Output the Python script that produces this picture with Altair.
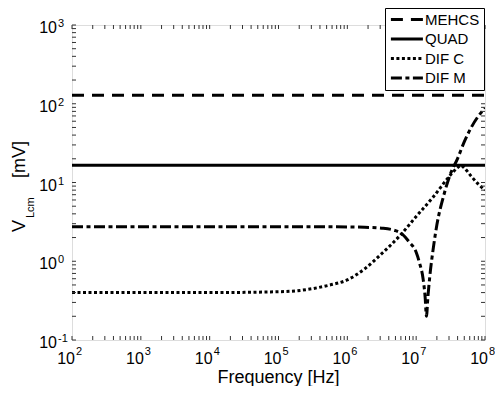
import altair as alt
import pandas as pd

# ---------------- data ----------------
series_order = ["MEHCS", "QUAD", "DIF C", "DIF M"]

mehcs_freq = [1e2, 1e8]
mehcs_val = [128, 128]

quad_freq = [1e2, 1e8]
quad_val = [16.5, 16.5]

difc_freq = [1e2, 1e3, 1e4, 1e5, 1.78e5, 3.16e5, 5.62e5, 1e6, 1.78e6, 3.16e6,
             5.62e6, 1e7, 1.78e7, 3.16e7, 4e7, 4.47e7, 5.01e7, 6.31e7, 7.94e7, 1e8]
difc_val = [0.40, 0.40, 0.40, 0.41, 0.42, 0.45, 0.50, 0.58, 0.80, 1.25,
            2.05, 3.7, 6.6, 12.5, 15.5, 16.5, 15.3, 12, 9.6, 8]

difm_freq = [1e2, 1e4, 1e6, 1.78e6, 3.16e6, 5.01e6, 6.31e6, 7.94e6, 1e7, 1.12e7,
             1.26e7, 1.35e7, 1.41e7, 1.48e7, 1.58e7, 1.78e7, 2e7, 2.51e7, 3.16e7,
             3.98e7, 5.01e7, 6.31e7, 7.94e7, 1e8]
difm_val = [2.75, 2.75, 2.73, 2.70, 2.63, 2.45, 2.2, 1.75, 1.3, 0.95,
            0.6, 0.35, 0.2, 0.35, 0.65, 1.5, 2.9, 6.8, 13,
            20, 33, 50, 69, 88]

x_tick_vals = [1e2, 1e3, 1e4, 1e5, 1e6, 1e7, 1e8]
x_tick_exps = ["2", "3", "4", "5", "6", "7", "8"]
y_tick_vals = [0.1, 1, 10, 100, 1000]
y_tick_exps = ["-1", "0", "1", "2", "3"]

x_title = "Frequency [Hz]"
y_title_main = "V"
y_title_sub = "Lcm"
y_title_unit = "[mV]"

# ---------------- tables ----------------
rows = []
for name, fr, vals in [("MEHCS", mehcs_freq, mehcs_val), ("QUAD", quad_freq, quad_val),
                       ("DIF C", difc_freq, difc_val), ("DIF M", difm_freq, difm_val)]:
    for f, v in zip(fr, vals):
        rows.append({"freq": f, "val": v, "series": name})
df = pd.DataFrame(rows)

x_grid = [m * 10 ** k for k in range(2, 8) for m in range(1, 10)] + [1e8]
y_grid = [round(m * 10.0 ** k, 6) for k in range(-1, 3) for m in range(1, 10)] + [1000]

xt_df = pd.DataFrame({"v": x_tick_vals, "e": x_tick_exps})
yt_df = pd.DataFrame({"v": y_tick_vals, "e": y_tick_exps})
xg_df = pd.DataFrame({"v": x_grid})
yg_df = pd.DataFrame({"v": y_grid})

W, H = 413, 315
FONT = "Liberation Sans"

xscale = alt.Scale(type="log", domain=[1e2, 1e8], nice=False)
yscale = alt.Scale(type="log", domain=[0.1, 1000], nice=False)

major_test = "abs(log(datum.value)/LN10 - round(log(datum.value)/LN10)) < 0.001"
grid_color = {"condition": {"test": major_test, "value": "#c4c4c4"}, "value": "#e4e4e4"}

dash_range = [[12, 8], [1, 0], [3, 2.5], [11, 3.5, 4, 3.5]]

lines = alt.Chart(df).mark_line(strokeWidth=3, strokeCap="butt",
                                interpolate="monotone", clip=True).encode(
    x=alt.X("freq:Q", scale=xscale,
            axis=alt.Axis(values=x_grid, grid=True, gridColor=grid_color, gridWidth=1,
                          labels=False, ticks=False, domain=False, title=None)),
    y=alt.Y("val:Q", scale=yscale,
            axis=alt.Axis(values=y_grid, grid=True, gridColor=grid_color, gridWidth=1,
                          labels=False, ticks=False, domain=False, title=None)),
    strokeDash=alt.StrokeDash(
        "series:N",
        scale=alt.Scale(domain=series_order, range=dash_range),
        legend=alt.Legend(title=None, orient="none", legendX=313, legendY=-17,
                          direction="vertical", fillColor="white", strokeColor="black",
                          padding=4, symbolType="M-1.4,0H6.6", symbolSize=64,
                          symbolStrokeWidth=3, symbolStrokeColor="black",
                          labelFont=FONT, labelFontSize=15, labelColor="black",
                          labelOffset=21, rowPadding=3.5, labelLimit=200),
    ),
    color=alt.value("black"),
)

tick_color = "#333333"
xb = alt.Chart(xg_df).mark_rule(color=tick_color, strokeWidth=1).encode(
    x=alt.X("v:Q", scale=xscale, axis=None), y=alt.value(H), y2=alt.value(H - 4))
xtop = alt.Chart(xg_df).mark_rule(color=tick_color, strokeWidth=1).encode(
    x=alt.X("v:Q", scale=xscale, axis=None), y=alt.value(0), y2=alt.value(4))
yl = alt.Chart(yg_df).mark_rule(color=tick_color, strokeWidth=1).encode(
    y=alt.Y("v:Q", scale=yscale, axis=None), x=alt.value(0), x2=alt.value(4))
yr = alt.Chart(yg_df).mark_rule(color=tick_color, strokeWidth=1).encode(
    y=alt.Y("v:Q", scale=yscale, axis=None), x=alt.value(W), x2=alt.value(W - 4))

xlab = alt.Chart(xt_df).mark_text(align="right", baseline="alphabetic", dx=3,
                                  font=FONT, fontSize=16, color="black").encode(
    x=alt.X("v:Q", scale=xscale, axis=None), y=alt.value(H + 24), text=alt.value("10"))
xexp = alt.Chart(xt_df).mark_text(align="left", baseline="alphabetic", dx=4,
                                  font=FONT, fontSize=11, color="black").encode(
    x=alt.X("v:Q", scale=xscale, axis=None), y=alt.value(H + 15), text="e:N")

ylab = alt.Chart(yt_df).mark_text(align="right", baseline="alphabetic", dy=8,
                                  font=FONT, fontSize=16, color="black").encode(
    y=alt.Y("v:Q", scale=yscale, axis=None), x=alt.value(-15), text=alt.value("10"))
yexp = alt.Chart(yt_df).mark_text(align="left", baseline="alphabetic", dy=2,
                                  font=FONT, fontSize=11, color="black").encode(
    y=alt.Y("v:Q", scale=yscale, axis=None), x=alt.value(-14), text="e:N")

xt = alt.Chart(pd.DataFrame({"t": [x_title]})).mark_text(
    align="center", baseline="alphabetic", font=FONT, fontSize=18, color="black").encode(
    x=alt.value(W / 2), y=alt.value(H + 43), text="t:N")

yt1 = alt.Chart(pd.DataFrame({"t": [y_title_main]})).mark_text(
    align="left", baseline="alphabetic", angle=270, font=FONT, fontSize=18, color="black").encode(
    x=alt.value(-47), y=alt.value(207), text="t:N")
yt2 = alt.Chart(pd.DataFrame({"t": [y_title_sub]})).mark_text(
    align="left", baseline="alphabetic", angle=270, font=FONT, fontSize=11, color="black").encode(
    x=alt.value(-38), y=alt.value(193), text="t:N")
yt3 = alt.Chart(pd.DataFrame({"t": [y_title_unit]})).mark_text(
    align="left", baseline="alphabetic", angle=270, font=FONT, fontSize=18, color="black").encode(
    x=alt.value(-47), y=alt.value(153), text="t:N")

chart = alt.layer(lines, xb, xtop, yl, yr, xlab, xexp, ylab, yexp, xt, yt1, yt2, yt3).properties(
    width=W, height=H,
    padding={"left": 64, "top": 17, "right": 10, "bottom": 46},
    autosize=alt.AutoSizeParams(type="none"),
).configure_view(stroke="#333333", strokeWidth=1).configure(background="white")

chart.save("out.html", embed_options={"renderer": "svg", "actions": False})
